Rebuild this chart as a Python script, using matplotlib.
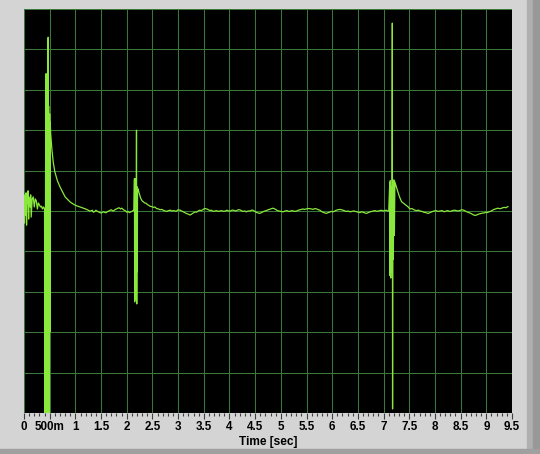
import numpy as np
import matplotlib
matplotlib.use("Agg")
from matplotlib import pyplot as plt
from matplotlib.patches import Rectangle

# x axis tick labels (LabVIEW style)
tick_pos = [0, 0.5, 1, 1.5, 2, 2.5, 3, 3.5, 4, 4.5, 5, 5.5, 6, 6.5, 7, 7.5, 8, 8.5, 9, 9.5]
tick_txt = ['0', '500m', '1', '1.5', '2', '2.5', '3', '3.5', '4', '4.5', '5', '5.5',
            '6', '6.5', '7', '7.5', '8', '8.5', '9', '9.5']

# start-up noise
t_start = [0.00, 0.01, 0.02, 0.03, 0.04, 0.05, 0.06, 0.07, 0.08, 0.09, 0.10, 0.12, 0.13,
           0.14, 0.16, 0.18, 0.20, 0.22, 0.24, 0.26, 0.28, 0.30, 0.32, 0.34, 0.36, 0.38, 0.40]
v_start = [0.30, -0.30, 0.40, -0.10, 0.45, -0.35, 0.30, 0.20, 0.50, -0.20, 0.35, 0.10, 0.40,
           -0.15, 0.30, 0.35, 0.10, 0.30, 0.25, 0.05, 0.20, 0.15, 0.10, 0.12, 0.05, 0.10, 0.05]

# first transient and decay
t_spike1 = [0.41, 0.42, 0.43, 0.435, 0.44, 0.45, 0.46, 0.47, 0.475, 0.48, 0.49, 0.50, 0.505,
            0.51, 0.52, 0.545, 0.57, 0.60, 0.65, 0.70, 0.80, 0.90, 1.00, 1.09, 1.20, 1.28]
v_spike1 = [-5.5, 1.0, 3.4, -5.5, 2.0, -5.5, 1.5, 4.3, -5.5, 2.6, -5.5, 2.4, -3.0,
            2.2, 1.9, 1.5, 1.2, 0.97, 0.75, 0.60, 0.35, 0.22, 0.14, 0.10, 0.05, 0.00]

t_base1 = [1.30, 1.33, 1.35, 1.38, 1.40, 1.43, 1.45, 1.48, 1.50, 1.53, 1.55, 1.58, 1.60,
           1.63, 1.65, 1.68, 1.70, 1.73, 1.75, 1.78, 1.80, 1.83, 1.85, 1.88, 1.90, 1.93,
           1.95, 1.98, 2.00, 2.03, 2.05, 2.08, 2.10, 2.12, 2.14]
v_base1 = [0.00, 0.02, -0.03, -0.01, 0.02, -0.01, -0.02, -0.04, -0.05, -0.03, -0.02, -0.04,
           -0.04, -0.01, 0.00, 0.02, 0.03, 0.00, 0.01, 0.04, 0.05, 0.07, 0.08, 0.05, 0.07,
           0.04, 0.02, 0.00, -0.03, -0.01, -0.04, -0.02, -0.01, 0.01, 0.02]

# second transient
t_spike2 = [2.15, 2.155, 2.16, 2.165, 2.17, 2.18, 2.19, 2.195, 2.20, 2.205, 2.21]
v_spike2 = [0.80, -2.25, 0.70, -2.00, 0.80, -2.20, 2.00, -2.30, 0.60, -1.50, 0.50]

t_base2 = [2.22, 2.24, 2.27, 2.30, 2.33, 2.35, 2.38, 2.40, 2.43, 2.45, 2.48, 2.52, 2.55,
           2.58, 2.62, 2.65, 2.68, 2.71, 2.75, 2.78, 2.81, 2.85, 2.88, 2.92, 2.96, 3.00,
           3.04, 3.07, 3.10, 3.13, 3.16, 3.20, 3.23, 3.26, 3.28, 3.31, 3.33, 3.36, 3.39,
           3.42, 3.45, 3.48, 3.50, 3.53, 3.56, 3.59, 3.62, 3.65, 3.68, 3.72, 3.75, 3.78,
           3.82, 3.85, 3.88, 3.92, 3.95, 3.98, 4.02, 4.05, 4.08, 4.11, 4.14, 4.17, 4.20,
           4.23, 4.26, 4.30, 4.33, 4.36, 4.40, 4.43, 4.46, 4.49, 4.52, 4.56, 4.59, 4.62,
           4.65, 4.69, 4.72, 4.75, 4.78, 4.82, 4.85, 4.88, 4.90, 4.93, 4.96, 5.00, 5.05,
           5.08, 5.12, 5.15, 5.18, 5.21, 5.25, 5.28, 5.31, 5.34, 5.37, 5.40, 5.43, 5.46,
           5.50, 5.53, 5.56, 5.60, 5.63, 5.66, 5.70, 5.73, 5.76, 5.79, 5.82, 5.86, 5.89,
           5.92, 5.95, 5.98, 6.02, 6.05, 6.08, 6.11, 6.15, 6.18, 6.21, 6.25, 6.28, 6.31,
           6.35, 6.38, 6.42, 6.45, 6.48, 6.51, 6.54, 6.57, 6.60, 6.64, 6.67, 6.70, 6.74,
           6.77, 6.80, 6.83, 6.87, 6.90, 6.93, 6.96, 6.99, 7.02, 7.05, 7.08, 7.10]
v_base2 = [0.55, 0.45, 0.32, 0.25, 0.22, 0.20, 0.19, 0.16, 0.14, 0.12, 0.11, 0.09, 0.10,
           0.06, 0.05, 0.03, 0.04, 0.02, 0.00, -0.01, 0.01, 0.02, 0.00, 0.01, -0.01, 0.03,
           0.02, 0.00, -0.02, -0.04, -0.06, -0.08, -0.10, -0.08, -0.06, -0.04, -0.02, -0.03,
           0.00, 0.02, 0.01, 0.03, 0.05, 0.06, 0.05, 0.03, 0.01, 0.02, -0.01, 0.00, 0.01,
           -0.01, 0.00, 0.01, -0.01, 0.00, 0.02, 0.00, 0.00, 0.02, 0.02, 0.00, 0.01, 0.03,
           0.03, 0.01, -0.01, 0.00, -0.02, 0.00, 0.00, 0.02, 0.02, -0.01, -0.03, -0.05,
           -0.06, -0.04, -0.02, 0.00, 0.01, 0.03, 0.04, 0.06, 0.07, 0.05, 0.04, 0.01, 0.00,
           -0.01, -0.02, 0.00, 0.01, -0.01, -0.01, 0.01, 0.00, -0.01, 0.00, 0.02, 0.03,
           0.04, 0.05, 0.04, 0.05, 0.06, 0.06, 0.05, 0.04, 0.06, 0.05, 0.03, 0.02, -0.01,
           -0.03, -0.05, -0.06, -0.04, -0.03, -0.01, -0.02, 0.00, 0.02, 0.03, 0.04, 0.03,
           0.02, 0.00, -0.01, 0.00, -0.02, -0.01, 0.00, -0.01, -0.02, -0.03, -0.04, -0.02,
           -0.03, -0.05, -0.06, -0.04, -0.02, -0.01, 0.00, 0.01, -0.01, 0.00, 0.01, 0.02,
           0.00, 0.01, 0.02, 0.00, 0.00]

# third transient and tail
t_spike3 = [7.12, 7.125, 7.13, 7.14, 7.15, 7.16, 7.17, 7.175, 7.18, 7.19, 7.20, 7.21]
v_spike3 = [0.70, -1.60, 0.75, -1.66, 0.60, -1.50, 4.65, -4.90, 0.70, -1.20, 0.77, -0.60]

t_base3 = [7.22, 7.26, 7.31, 7.35, 7.40, 7.44, 7.48, 7.51, 7.55, 7.58, 7.61, 7.64, 7.68,
           7.71, 7.75, 7.78, 7.82, 7.87, 7.90, 7.94, 7.98, 8.02, 8.06, 8.10, 8.14, 8.18,
           8.22, 8.25, 8.28, 8.30, 8.34, 8.38, 8.42, 8.45, 8.48, 8.50, 8.53, 8.56, 8.59,
           8.62, 8.66, 8.70, 8.74, 8.78, 8.81, 8.84, 8.87, 8.90, 8.93, 8.96, 8.99, 9.02,
           9.05, 9.08, 9.12, 9.15, 9.18, 9.22, 9.25, 9.28, 9.32, 9.35, 9.38, 9.42]
v_base3 = [0.72, 0.55, 0.35, 0.23, 0.18, 0.14, 0.10, 0.05, 0.06, 0.04, 0.02, 0.01, 0.02,
           0.00, -0.01, -0.03, -0.04, -0.06, -0.04, -0.02, 0.00, 0.01, -0.01, 0.00, 0.01,
           -0.02, 0.00, 0.01, -0.01, -0.01, 0.01, 0.02, 0.01, 0.00, 0.01, 0.02, 0.03, 0.02,
           0.00, -0.02, -0.04, -0.06, -0.09, -0.11, -0.10, -0.08, -0.07, -0.06, -0.05, -0.05,
           -0.03, -0.04, -0.02, -0.01, 0.02, 0.04, 0.05, 0.07, 0.06, 0.06, 0.08, 0.09, 0.08,
           0.11]

t = np.concatenate([t_start, t_spike1, t_base1, t_spike2, t_base2, t_spike3, t_base3])
v = np.concatenate([v_start, v_spike1, v_base1, v_spike2, v_base2, v_spike3, v_base3])

plt.rcParams['font.family'] = ['Liberation Sans', 'DejaVu Sans']

fig = plt.figure(figsize=(5.4, 4.54), dpi=100, facecolor='#d4d4d4')
# window frame bits on the right and bottom
fig.patches.append(Rectangle((527 / 540, 0), 6 / 540, 1, transform=fig.transFigure,
                             color='#b0b0b0', zorder=0))
fig.patches.append(Rectangle((533 / 540, 0), 7 / 540, 1, transform=fig.transFigure,
                             color='#989898', zorder=0))
fig.patches.append(Rectangle((0, 0), 1, 5 / 454, transform=fig.transFigure,
                             color='#a0a0a0', zorder=0))

ax = fig.add_axes([24 / 540, 41 / 454, 488 / 540, 404 / 454])
ax.set_facecolor('black')
ax.plot(t, v, color='#8ae83c', lw=0.9)

ax.set_xlim(0, 9.5)
ax.set_ylim(-5, 5)
ax.set_xticks(tick_pos)
ax.set_xticklabels(tick_txt, fontsize=8.4, fontweight='bold')
ax.set_xticks(np.arange(0, 9.51, 0.1), minor=True)
ax.set_yticks(np.arange(-5, 5.1, 1))
ax.tick_params(axis='y', left=False, labelleft=False)
ax.tick_params(axis='x', which='major', length=4, width=0.8, color='#404040', pad=2)
ax.tick_params(axis='x', which='minor', length=2.5, width=0.8, color='#404040')
ax.grid(True, which='major', color='#3a783a', lw=0.75)
ax.set_axisbelow(True)
for s in ax.spines.values():
    s.set_visible(False)
ax.set_xlabel('Time [sec]', fontsize=8.6, fontweight='bold', labelpad=2)

plt.savefig('out.png', dpi=100, facecolor=fig.get_facecolor())
